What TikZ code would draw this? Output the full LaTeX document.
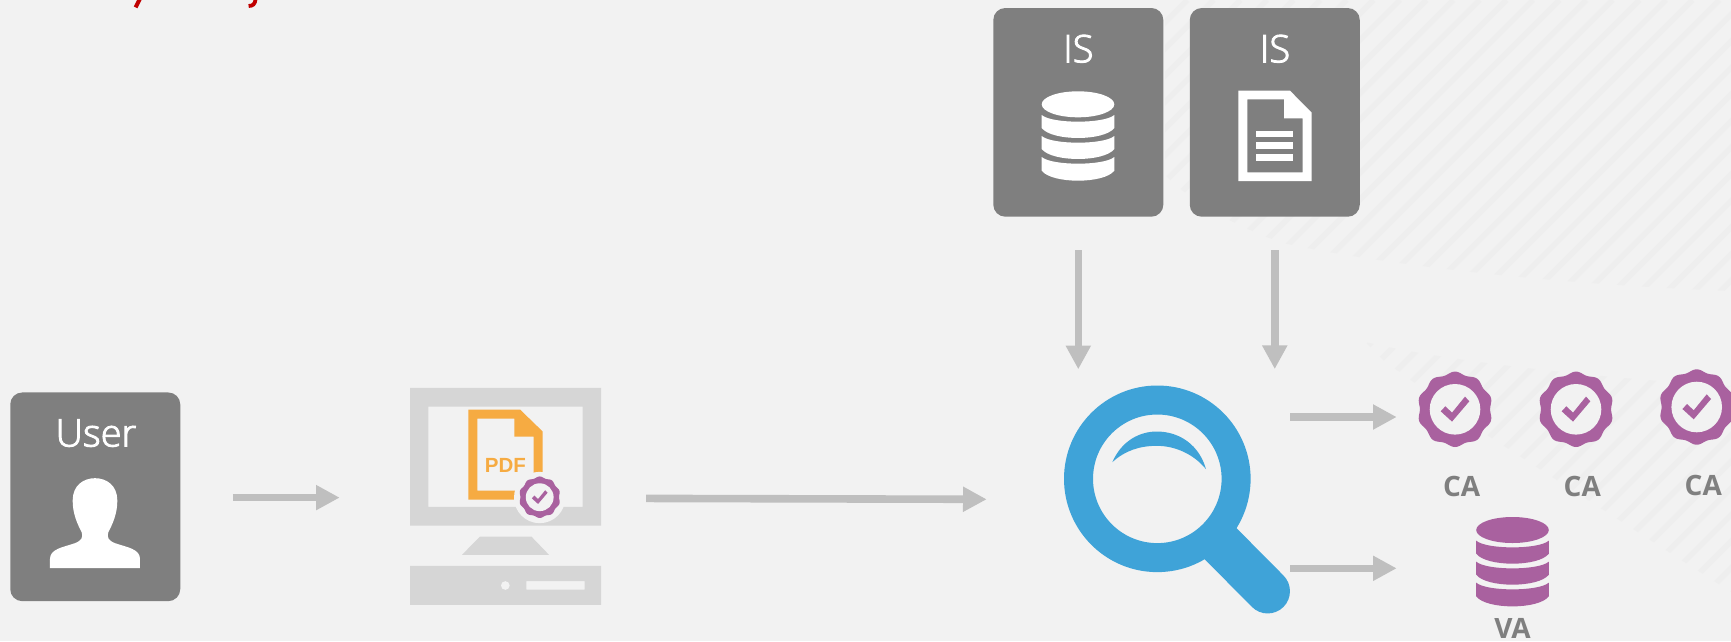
\documentclass[tikz,border=0pt]{standalone}
\usepackage{fontspec}
\usetikzlibrary{arrows.meta,calc}
\setmainfont{Open Sans}
\newfontfamily\lightfont{Open Sans Light}[FakeBold=2.5]
\newfontfamily\boldfont{Open Sans}[UprightFont=* Bold]
\newfontfamily\pdffont{Liberation Sans}[UprightFont=* Bold]
\definecolor{bgc}{HTML}{F2F2F2}
\definecolor{hatchc}{HTML}{EEEEEE}
\definecolor{boxc}{HTML}{7F7F7F}
\definecolor{arrowc}{HTML}{BFBFBF}
\definecolor{pcc}{HTML}{D6D6D6}
\definecolor{purplec}{HTML}{A9619F}
\definecolor{orangec}{HTML}{F6AB42}
\definecolor{bluec}{HTML}{3FA3D8}
\definecolor{redc}{HTML}{C00000}
\tikzset{
  x=1pt,y=-1pt,
  flow/.style={draw=arrowc,line width=7.6pt,-{Triangle[length=23.7pt,width=23.7pt,fill=arrowc]}},
  cardbox/.style={fill=boxc,rounded corners=12pt,minimum width=170pt,inner sep=0pt,outer sep=0pt,minimum height=208.7pt},
  cardlabel/.style={anchor=base,text=white,font=\lightfont\fontsize{38}{40}\selectfont,inner sep=0pt},
  iconlabel/.style={anchor=base,text=boxc,font=\boldfont\fontsize{28}{30}\selectfont,inner sep=0pt},
  hatchline/.style={draw=hatchc,line width=5.5pt},
  ghost/.style={inner sep=0pt,outer sep=0pt},
}
% seal: centre x, centre y, scale
\newcommand\sealicon[3]{%
  \begin{scope}[shift={(#1,#2)},x=#3pt,y=-#3pt]
    \fill[purplec] plot[domain=0:360,samples=181,variable=\t,smooth] ({(36.4+1.3*cos(10*(\t-90)))*cos(\t)},{(36.4+1.3*cos(10*(\t-90)))*sin(\t)}) -- cycle;
    \fill[bgc] (0,0) circle[radius=25.3];
    \fill[purplec] (-14.3,2) -- (-9.7,-3) -- (-3,3.3) -- (10,-12.7) -- (14.3,-8) -- (-3,12.3) -- cycle;
  \end{scope}}
% database: centre x, top y, colour
\newcommand\dbicon[3]{%
  \begin{scope}[shift={(#1,#2)}]
    \fill[#3] (0,13) ellipse[x radius=36.3pt,y radius=13pt];
    \foreach \ya/\yb in {23.7/36.7,44.7/57.7,65.7/79.4}{
      \fill[#3] (-36.3,\ya) .. controls (-26,\ya+8.9) and (26,\ya+8.9) .. (36.3,\ya)
        -- (36.3,\yb) .. controls (26,\yb+13.3) and (-26,\yb+13.3) .. (-36.3,\yb) -- cycle;
    }
  \end{scope}}
\begin{document}
\begin{tikzpicture}
\useasboundingbox (0,0) rectangle (1731,641);
\fill[bgc] (0,0) rectangle (1731,641);

% hatch, upper band
\begin{scope}
  \clip (1165,0) -- (1165,175) .. controls (1195,205) and (1240,228) .. (1283,243)
     .. controls (1340,256) and (1500,282) .. (1731,291) -- (1731,0) -- cycle;
  \foreach \k in {-15,...,20}{ \draw[hatchline] ({1533+26.6*\k},0) -- ({1533+26.6*\k-700},700); }
\end{scope}
% hatch, lower band
\begin{scope}
  \clip (1365,342) .. controls (1450,362) and (1600,378) .. (1731,386) -- (1731,592)
     -- (1490,437) -- (1383,360) -- cycle;
  \foreach \k in {-10,...,16}{ \draw[hatchline] ({1926.7+26.6*\k},0) -- ({1926.7+26.6*\k-700},700); }
\end{scope}

% cropped red text remnants at the top edge
\draw[redc,line width=4pt] (139.8,-1) -- (135.6,7.4);
\draw[redc,line width=3.8pt] (255.6,-1) .. controls (255,4) and (253,6) .. (248.6,6);

% cards
\node[cardbox] (user) at (95.25,496.8) {};
\node[cardbox] (is1) at (1078.3,112.35) {};
\node[cardbox] (is2) at (1274.75,112.35) {};
\node[cardlabel] (userl) at (96,446.5) {User};
\node[cardlabel] (is1l) at (1078.3,62.3) {IS};
\node[cardlabel] (is2l) at (1275,62.3) {IS};

% user bust
\begin{scope}[shift={(0,380.5)},x=0.33333pt,y=-0.33333pt]
  \fill[white] (150,563) -- (150,535) .. controls (150,505) and (190,500) .. (225,488)
    .. controls (245,480) and (250,470) .. (245,455) .. controls (232,430) and (218,400) .. (218,360)
    .. controls (218,315) and (250,293) .. (285,293) .. controls (320,293) and (352,315) .. (352,360)
    .. controls (352,400) and (338,430) .. (325,455) .. controls (320,470) and (325,480) .. (345,488)
    .. controls (380,500) and (420,505) .. (420,535) -- (420,563) -- cycle;
\end{scope}

% IS icons
\dbicon{1078}{91.3}{white}
\fill[white,even odd rule] (1238.3,90.7) -- (1290,90.7) -- (1311.7,112.7) -- (1311.7,181) -- (1238.3,181) -- cycle
  (1247.3,99.3) -- (1284,99.3) -- (1284,118.3) -- (1302.7,118.3) -- (1302.7,172.3) -- (1247.3,172.3) -- cycle;
\fill[white] (1256.3,130.7) rectangle (1293.3,136.7);
\fill[white] (1256.3,142.3) rectangle (1293.3,149);
\fill[white] (1256.3,154.3) rectangle (1293.3,161);

% computer
\node[ghost,minimum width=191pt,minimum height=217pt] (pc) at (505.5,497) {};
\begin{scope}[shift={(390,370.5)},x=0.33333pt,y=-0.33333pt]
  \fill[pcc,even odd rule] (60,52) rectangle (633,465) (115,108) rectangle (578,409);
  \fill[pcc] (270,498) -- (424,498) -- (477,553) -- (216,553) -- cycle;
  \fill[pcc,even odd rule] (60,586) rectangle (633,703) (409,632) rectangle (584,657);
  \fill[bgc] (346,645) circle[radius=13];
  \fill[orangec,even odd rule] (235,117) -- (390,117) -- (458,183) -- (458,387) -- (235,387) -- cycle
    (262,144) -- (373,144) -- (373,198) -- (431,198) -- (431,360) -- (262,360) -- cycle;
  \node[anchor=base,inner sep=0pt,text=orangec,font=\pdffont\fontsize{20.5}{22}\selectfont] (pdf) at (346,305) {PDF};
  \fill[bgc] (449,381) circle[radius=77];
\end{scope}
\sealicon{539.7}{497.2}{0.55}

% magnifier
\draw[bluec,line width=44.5pt,line cap=round] (1220.7,543.8) -- (1267.7,591.2);
\node[circle,draw=bluec,line width=29pt,minimum size=157.6pt,inner sep=0pt,outer sep=0pt] (search) at (1157.3,478.8) {};
\begin{scope}[shift={(1040,370.5)},x=0.33333pt,y=-0.33333pt]
  \fill[bluec] (217,275) .. controls (245,210) and (300,183) .. (350,183)
    .. controls (420,183) and (478,225) .. (498,296)
    .. controls (460,250) and (405,226) .. (350,226)
    .. controls (300,226) and (255,240) .. (217,275) -- cycle;
\end{scope}

% CA seals
\node[ghost,circle,minimum size=71.6pt] (ca1) at (1455,409) {};
\node[ghost,circle,minimum size=71.6pt] (ca2) at (1576,409) {};
\node[ghost,circle,minimum size=71.6pt] (ca3) at (1696.7,406.7) {};
\sealicon{1455}{409.3}{1}
\sealicon{1576}{409.3}{1}
\sealicon{1696.7}{407}{1}
\node[iconlabel] (cal1) at (1461.7,496.5) {CA};
\node[iconlabel] (cal2) at (1582.3,496.5) {CA};
\node[iconlabel] (cal3) at (1703.3,495.8) {CA};

% VA
\node[ghost,minimum width=71.6pt,minimum height=89.3pt] (va) at (1512.5,561.3) {};
\dbicon{1512.5}{517}{purplec}
\node[iconlabel] (val) at (1512.5,638.5) {VA};

% connectors
\coordinate (y1) at (0,497.6);
\coordinate (y2a) at (0,498.3);
\coordinate (y2b) at (0,499.3);
\coordinate (y3) at (0,417);
\coordinate (y4) at (0,568.3);
\draw[flow,shorten <=52.5pt,shorten >=70.3pt] (user.east |- y1) -- (pc.west |- y1);
\draw[flow,shorten <=45.2pt] (pc.east |- y2a) -- ($(search.west |- y2b)+(-91.8,0)$);
\draw[flow,shorten <=33.3pt,shorten >=30.7pt] (is1.south) -- (is1.south |- search.north);
\draw[flow,shorten <=33.3pt,shorten >=30.9pt] (is2.south) -- (is2.south |- search.north);
\draw[flow,shorten <=53.9pt,shorten >=22.5pt] (search.east |- y3) -- (ca1.west |- y3);
\draw[flow,shorten <=53.9pt,shorten >=80pt] (search.east |- y4) -- (va.west |- y4);
\end{tikzpicture}
\end{document}
